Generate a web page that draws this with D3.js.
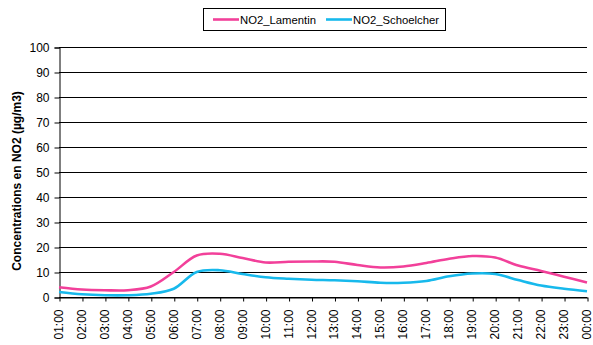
<!DOCTYPE html>
<html>
<head>
<meta charset="utf-8">
<script src="https://cdn.jsdelivr.net/npm/d3@7"></script>
<style>
  html, body { margin: 0; padding: 0; background: #fff; }
  svg { display: block; font-family: "Liberation Sans", Arial, sans-serif; }
</style>
</head>
<body>
<svg id="chart" width="593" height="345"></svg>
<script>
// Hourly labels (categories)
const hours = ["01:00","02:00","03:00","04:00","05:00","06:00","07:00","08:00","09:00","10:00","11:00","12:00",
               "13:00","14:00","15:00","16:00","17:00","18:00","19:00","20:00","21:00","22:00","23:00","00:00"];

// Mean NO2 concentrations per hour (µg/m3)
const lamentin   = [3.9, 3.0, 2.7, 2.7, 4.2, 10.0, 16.6, 17.3, 15.6, 13.8, 14.1, 14.2,
                    14.1, 12.8, 11.8, 12.2, 13.6, 15.3, 16.4, 15.8, 12.6, 10.4, 8.1, 5.8];
const schoelcher = [2.0, 1.1, 0.7, 0.7, 1.3, 3.3, 10.0, 10.7, 9.2, 7.9, 7.3, 6.9,
                    6.7, 6.3, 5.7, 5.7, 6.4, 8.3, 9.4, 9.2, 6.8, 4.6, 3.3, 2.3];

const yTicks = [0,10,20,30,40,50,60,70,80,90,100];

const seriesNames  = ["NO2_Lamentin", "NO2_Schoelcher"];
const seriesColors = ["#F2409A", "#17B9EC"];
const seriesData   = [lamentin, schoelcher];

const FONT = "Liberation Sans, Arial, sans-serif";
const svg = d3.select("#chart");
const m = { left: 59, right: 587, top: 47, bottom: 297 };

const x = d3.scalePoint().domain(hours).range([m.left, m.right]);
const y = d3.scaleLinear().domain([0, 100]).range([m.bottom, m.top]);

// Horizontal gridlines
svg.append("g")
  .selectAll("line")
  .data(yTicks)
  .join("line")
  .attr("x1", m.left).attr("x2", m.right)
  .attr("y1", d => y(d) + 0.5).attr("y2", d => y(d) + 0.5)
  .attr("stroke", "#000").attr("stroke-width", 1);

// Y axis
const yAxis = svg.append("g")
  .attr("transform", `translate(${m.left + 0.5},0.5)`)
  .call(d3.axisLeft(y).tickValues(yTicks).tickSize(5).tickPadding(5));
yAxis.select(".domain").attr("stroke", "#000");
yAxis.selectAll(".tick line").attr("stroke", "#000");
yAxis.selectAll("text").attr("font-size", 12).attr("fill", "#000")
  .attr("font-family", FONT);

// X axis with vertical hour labels
const xAxis = svg.append("g")
  .attr("transform", `translate(0.5,${m.bottom + 0.5})`)
  .call(d3.axisBottom(x).tickSize(4).tickSizeOuter(0).tickPadding(0));
xAxis.select(".domain").attr("stroke", "#000");
xAxis.selectAll(".tick line").attr("stroke", "#000");
xAxis.selectAll("text")
  .attr("font-size", 12).attr("fill", "#000")
  .attr("font-family", FONT)
  .attr("text-anchor", "end")
  .attr("x", 0).attr("y", 0).attr("dy", null)
  .attr("transform", "translate(3,12) rotate(-90)");

// Y axis title
svg.append("text")
  .attr("transform", "translate(21,181) rotate(-90)")
  .attr("text-anchor", "middle")
  .attr("font-size", 12).attr("font-weight", "bold")
  .attr("font-family", FONT)
  .text("Concentrations en NO2 (µg/m3)");

// Smoothed series lines
const line = d3.line()
  .x((d, i) => x(hours[i]))
  .y(d => y(d))
  .curve(d3.curveCatmullRom.alpha(0.5));

seriesData.forEach((vals, k) => {
  svg.append("path")
    .datum(vals)
    .attr("fill", "none")
    .attr("stroke", seriesColors[k])
    .attr("stroke-width", 2.6)
    .attr("stroke-linejoin", "round")
    .attr("d", line);
});

// Legend
const legend = svg.append("g");
legend.append("rect")
  .attr("x", 203.5).attr("y", 8.5).attr("width", 242).attr("height", 22)
  .attr("fill", "#fff").attr("stroke", "#000").attr("stroke-width", 1);
const legendX = [213, 326];
seriesNames.forEach((name, k) => {
  legend.append("line")
    .attr("x1", legendX[k]).attr("x2", legendX[k] + 26)
    .attr("y1", 19.5).attr("y2", 19.5)
    .attr("stroke", seriesColors[k]).attr("stroke-width", 2.6);
  legend.append("text")
    .attr("x", legendX[k] + 27).attr("y", 23.5)
    .attr("font-size", 11.3).attr("font-family", FONT)
    .text(name);
});
</script>
</body>
</html>
